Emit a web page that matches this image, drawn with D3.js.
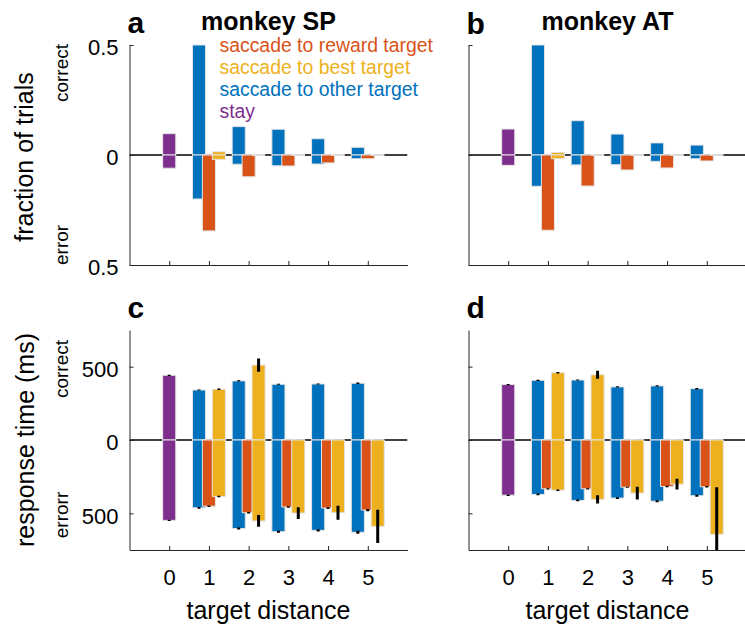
<!DOCTYPE html>
<html>
<head>
<meta charset="utf-8">
<script src="https://cdn.jsdelivr.net/npm/d3@7"></script>
<style>
  body { margin: 0; background: #fff; }
  text { font-family: "Liberation Sans", Arial, Helvetica, sans-serif; }
</style>
</head>
<body>
<div id="chart"></div>
<script>
// ---- data ----
var distances = [1, 2, 3, 4, 5];
var seriesNames = ["saccade to reward target", "saccade to best target", "saccade to other target", "stay"];
var seriesColors = ["#D95319", "#EDB120", "#0072BD", "#7E2F8E"];
var yTickFrac = [-0.5, 0, 0.5];
var yTickRT = [-500, 0, 500];
var xTicks = [0, 1, 2, 3, 4, 5];

// fraction of trials, [correct, error] ; error drawn downward
var spStayFrac = [0.097, 0.06];
var spOtherFracCorrect = [0.5, 0.129, 0.117, 0.074, 0.035];
var spOtherFracError = [0.2, 0.042, 0.049, 0.041, 0.017];
var spRewardFracCorrect = [0, 0, 0, 0, 0];
var spRewardFracError = [0.345, 0.099, 0.05, 0.036, 0.017];
var spBestFracCorrect = [0.015, 0, 0, 0, 0];
var spBestFracError = [0.02, 0, 0, 0, 0];

var atStayFrac = [0.118, 0.047];
var atOtherFracCorrect = [0.5, 0.156, 0.095, 0.055, 0.045];
var atOtherFracError = [0.142, 0.045, 0.044, 0.029, 0.017];
var atRewardFracCorrect = [0, 0, 0, 0, 0];
var atRewardFracError = [0.342, 0.141, 0.068, 0.059, 0.027];
var atBestFracCorrect = [0.012, 0, 0, 0, 0];
var atBestFracError = [0.017, 0, 0, 0, 0];

// response time (ms), [correct, error] and sem
var spStayRT = [441, 548];
var spStayRTsem = [4, 5];
var spOtherRTCorrect = [341, 403, 380, 382, 387];
var spOtherRTError = [462, 604, 625, 616, 629];
var spOtherSemCorrect = [4, 4, 4, 4, 5];
var spOtherSemError = [6, 7, 7, 8, 10];
var spRewardRTCorrect = [0, 0, 0, 0, 0];
var spRewardRTError = [451, 496, 457, 464, 478];
var spRewardSemCorrect = [0, 0, 0, 0, 0];
var spRewardSemError = [5, 5, 5, 6, 7];
var spBestRTCorrect = [346, 511, 0, 0, 0];
var spBestRTError = [385, 552, 498, 496, 589];
var spBestSemCorrect = [5, 45, 0, 0, 0];
var spBestSemError = [5, 40, 40, 48, 113];

var atStayRT = [378, 376];
var atStayRTsem = [4, 5];
var atOtherRTCorrect = [407, 409, 362, 369, 350];
var atOtherRTError = [371, 412, 396, 417, 380];
var atOtherSemCorrect = [4, 4, 4, 4, 5];
var atOtherSemError = [6, 6, 6, 7, 7];
var atRewardRTCorrect = [0, 0, 0, 0, 0];
var atRewardRTError = [333, 333, 322, 317, 319];
var atRewardSemCorrect = [0, 0, 0, 0, 0];
var atRewardSemError = [4, 4, 4, 5, 5];
var atBestRTCorrect = [459, 445, 0, 0, 0];
var atBestRTError = [342, 405, 362, 301, 643];
var atBestSemCorrect = [5, 27, 0, 0, 0];
var atBestSemError = [5, 28, 43, 36, 320];

// ---- layout ----
var W = 745, H = 625;
var barW = 0.33;
var offsets = { other: -0.25, reward: 0, best: 0.25 };
var axisColor = "#262626";

var svg = d3.select("#chart").append("svg")
    .attr("width", W).attr("height", H);

var xLeft = d3.scaleLinear().domain([-1, 6]).range([129.5, 407.5]);
var xRight = d3.scaleLinear().domain([-1, 6]).range([468.5, 746.5]);
var yFrac = d3.scaleLinear().domain([-0.5, 0.5]).range([265, 45]);
var yRT = d3.scaleLinear().domain([-750, 750]).range([550, 330]);

function barPath(x, y, cx, v) {
    var x0 = x(cx - barW / 2), x1 = x(cx + barW / 2);
    return "M" + x0 + "," + y(0) + "H" + x1 + "V" + y(v) + "H" + x0 + "Z";
}

var clipCount = 0;
function drawPanel(p) {
    var x = p.x, y = p.y;
    var g = svg.append("g");
    var id = "clip" + (clipCount++);
    svg.append("clipPath").attr("id", id).append("rect")
        .attr("x", x.range()[0]).attr("y", y.range()[1] - 1)
        .attr("width", x.range()[1] - x.range()[0])
        .attr("height", y.range()[0] - y.range()[1] + 1);
    var plot = g.append("g").attr("clip-path", "url(#" + id + ")");

    // zero line under bars
    plot.append("line")
        .attr("x1", x.range()[0]).attr("x2", x.range()[1])
        .attr("y1", y(0)).attr("y2", y(0))
        .attr("stroke", "#000").attr("stroke-width", 1.5);

    // build bar list: stay first, then other, reward, best
    var bars = [];
    bars.push({ cx: 0, v: p.stay[0], c: seriesColors[3], sem: p.staySem ? p.staySem[0] : 0 });
    bars.push({ cx: 0, v: -p.stay[1], c: seriesColors[3], sem: p.staySem ? p.staySem[1] : 0 });
    p.series.forEach(function(s) {
        distances.forEach(function(d, i) {
            bars.push({ cx: d + s.off, v: s.correct[i], c: s.color, sem: s.semC ? s.semC[i] : 0 });
            bars.push({ cx: d + s.off, v: -s.error[i], c: s.color, sem: s.semE ? s.semE[i] : 0 });
        });
    });

    plot.selectAll("path.bar")
        .data(bars)
        .enter()
        .append("path")
        .attr("class", "bar")
        .attr("d", function(d) { return barPath(x, y, d.cx, d.v); })
        .attr("fill", function(d) { return d.c; })
        .attr("stroke", "#e4e4e4")
        .attr("stroke-width", 1);

    // error bars
    plot.selectAll("line.err")
        .data(bars.filter(function(d) { return d.sem > 0 && d.v !== 0; }))
        .enter()
        .append("line")
        .attr("class", "err")
        .attr("x1", function(d) { return x(d.cx); })
        .attr("x2", function(d) { return x(d.cx); })
        .attr("y1", function(d) { return y(d.v - d.sem); })
        .attr("y2", function(d) { return y(d.v + d.sem); })
        .attr("stroke", "#000")
        .attr("stroke-width", 3);

    // axes
    var yAxis = d3.axisLeft(y)
        .tickValues(p.yTicks)
        .tickSizeInner(-4)
        .tickSizeOuter(0)
        .tickPadding(11)
        .tickFormat(function(d) { return p.yLabels ? String(Math.abs(d)) : ""; });
    var ya = g.append("g")
        .attr("transform", "translate(" + x.range()[0] + ",0)")
        .call(yAxis);
    ya.selectAll("text").attr("font-size", 22).attr("fill", "#000").attr("dy", "0.45em");

    var xAxis = d3.axisBottom(x)
        .tickValues(xTicks)
        .tickSizeInner(-4)
        .tickSizeOuter(0)
        .tickPadding(19)
        .tickFormat(function(d) { return p.xLabels ? String(d) : ""; });
    var xa = g.append("g")
        .attr("transform", "translate(0," + y.range()[0] + ")")
        .call(xAxis);
    xa.selectAll("text").attr("font-size", 22).attr("fill", "#000");

    [ya, xa].forEach(function(a) {
        a.select(".domain").attr("stroke", axisColor).attr("stroke-width", 1);
        a.selectAll(".tick line").attr("stroke", axisColor);
    });

    // panel letter
    svg.append("text")
        .attr("x", x.range()[0] - 2).attr("y", p.letterY)
        .attr("font-size", 30).attr("font-weight", "bold")
        .text(p.letter);

    if (p.title) {
        svg.append("text")
            .attr("x", x.range()[0] + (407.5 - 129.5) / 2)
            .attr("y", 30)
            .attr("text-anchor", "middle")
            .attr("font-size", 25).attr("font-weight", "bold")
            .text(p.title);
    }
    if (p.xLabels) {
        svg.append("text")
            .attr("x", x.range()[0] + (407.5 - 129.5) / 2)
            .attr("y", 619)
            .attr("text-anchor", "middle")
            .attr("font-size", 25)
            .text("target distance");
    }
}

function series(other, otherE, reward, rewardE, best, bestE, semSets) {
    semSets = semSets || {};
    return [
        { off: offsets.other, color: seriesColors[2], correct: other, error: otherE, semC: semSets.oc, semE: semSets.oe },
        { off: offsets.reward, color: seriesColors[0], correct: reward, error: rewardE, semC: semSets.rc, semE: semSets.re },
        { off: offsets.best, color: seriesColors[1], correct: best, error: bestE, semC: semSets.bc, semE: semSets.be }
    ];
}

drawPanel({
    x: xLeft, y: yFrac, yTicks: yTickFrac, yLabels: true, xLabels: false,
    letter: "a", letterY: 33, title: "monkey SP",
    stay: spStayFrac,
    series: series(spOtherFracCorrect, spOtherFracError, spRewardFracCorrect, spRewardFracError, spBestFracCorrect, spBestFracError)
});
drawPanel({
    x: xRight, y: yFrac, yTicks: yTickFrac, yLabels: false, xLabels: false,
    letter: "b", letterY: 34, title: "monkey AT",
    stay: atStayFrac,
    series: series(atOtherFracCorrect, atOtherFracError, atRewardFracCorrect, atRewardFracError, atBestFracCorrect, atBestFracError)
});
drawPanel({
    x: xLeft, y: yRT, yTicks: yTickRT, yLabels: true, xLabels: true,
    letter: "c", letterY: 318,
    stay: spStayRT, staySem: spStayRTsem,
    series: series(spOtherRTCorrect, spOtherRTError, spRewardRTCorrect, spRewardRTError, spBestRTCorrect, spBestRTError,
        { oc: spOtherSemCorrect, oe: spOtherSemError, rc: spRewardSemCorrect, re: spRewardSemError, bc: spBestSemCorrect, be: spBestSemError })
});
drawPanel({
    x: xRight, y: yRT, yTicks: yTickRT, yLabels: false, xLabels: true,
    letter: "d", letterY: 318,
    stay: atStayRT, staySem: atStayRTsem,
    series: series(atOtherRTCorrect, atOtherRTError, atRewardRTCorrect, atRewardRTError, atBestRTCorrect, atBestRTError,
        { oc: atOtherSemCorrect, oe: atOtherSemError, rc: atRewardSemCorrect, re: atRewardSemError, bc: atBestSemCorrect, be: atBestSemError })
});

// legend (text only, coloured)
svg.selectAll("text.legend")
    .data(seriesNames)
    .enter()
    .append("text")
    .attr("class", "legend")
    .attr("x", 219.5)
    .attr("y", function(d, i) { return 51.5 + i * 22.2; })
    .attr("font-size", 19.4)
    .attr("fill", function(d, i) { return seriesColors[i]; })
    .text(function(d) { return d; });

// y axis titles
function rotText(x, y, anchor, size, txt) {
    svg.append("text")
        .attr("transform", "translate(" + x + "," + y + ") rotate(-90)")
        .attr("text-anchor", anchor)
        .attr("font-size", size)
        .text(txt);
}
rotText(33, 157, "middle", 25, "fraction of trials");
rotText(34, 440, "middle", 25, "response time (ms)");
rotText(68, 44, "end", 19, "correct");
rotText(68, 265, "start", 19, "error");
rotText(68, 369, "middle", 19, "correct");
rotText(68, 515, "middle", 19, "errorr");
</script>
</body>
</html>
